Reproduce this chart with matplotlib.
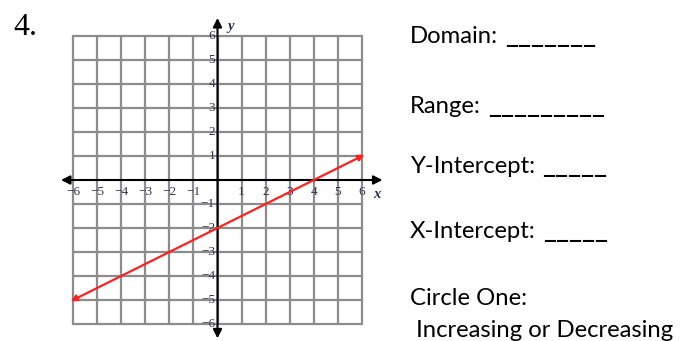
import matplotlib

matplotlib.use("Agg")
import matplotlib.pyplot as plt  # noqa: E402

# worksheet problem 4: graph of a line on a -6..6 grid
grid_values = list(range(-6, 7))
tick_values = [-6, -5, -4, -3, -2, -1, 1, 2, 3, 4, 5, 6]
line_x = [-6.1, 6.1]
line_y = [-5.05, 1.05]
x_axis_span = [-6.5, 6.85]
y_axis_span = [6.75, -6.6]

prompt_labels = ["Domain:", "Range:", "Y-Intercept:", "X-Intercept:", "Circle One:",
                 " Increasing or Decreasing"]
prompt_blanks = ["_______", "_________", "_____", "_____", "", ""]
prompt_baselines = [43, 113, 173, 238, 305, 337]  # pixels from top

W, H = 698, 341
fig = plt.figure(figsize=(W / 100, H / 100), dpi=100)
fig.patch.set_facecolor("white")
ax = fig.add_axes([0, 0, 1, 1])
ax.axis("off")

# pixel mapping: x=-6 -> 73px, x=6 -> 362px ; y=6 -> 36px, y=-6 -> 324px
px_x = (362 - 73) / 12
px_y = (324 - 36) / 12
x0, y0 = 217.5, 180
ax.set_xlim(-x0 / px_x, (W - x0) / px_x)
ax.set_ylim(-(H - y0) / px_y, y0 / px_y)

grid_color = "#8c8c8c"
for v in grid_values:
    ax.plot([v, v], [-6, 6], color=grid_color, lw=1.6, solid_capstyle="round", zorder=1)
    if v != 0:
        ax.plot([-6, 6], [v, v], color=grid_color, lw=1.6, solid_capstyle="round", zorder=1)

arrow_kw = dict(arrowstyle="<|-|>", color="black", lw=1.5, mutation_scale=13,
                shrinkA=0, shrinkB=0)
ax.annotate("", xy=(x_axis_span[1], 0), xytext=(x_axis_span[0], 0), arrowprops=arrow_kw, zorder=3)
ax.annotate("", xy=(0, y_axis_span[0]), xytext=(0, y_axis_span[1]), arrowprops=arrow_kw, zorder=3)

label_color = "#34344a"
for v in tick_values:
    s = f"\u2212{abs(v)}" if v < 0 else str(v)
    ax.text(v, -0.5, s, ha="center", va="center", fontsize=9.5,
            family="Liberation Serif", color=label_color, zorder=4)
    ax.text(-0.1, v, s, ha="right", va="center", fontsize=9.5,
            family="Liberation Serif", color=label_color, zorder=4)
ax.text(6.45, -0.6, "x", ha="left", va="center", fontsize=10.5, family="Liberation Serif",
        style="italic", weight="bold", color="#2a2a55")
ax.text(0.4, 6.4, "y", ha="left", va="center", fontsize=10.5, family="Liberation Serif",
        style="italic", weight="bold", color="#2a2a55")

ax.annotate("", xy=(line_x[1], line_y[1]), xytext=(line_x[0], line_y[0]),
            arrowprops=dict(arrowstyle="<|-|>", color="#ff2020", lw=1.6, mutation_scale=9,
                            shrinkA=0, shrinkB=0), zorder=5)

fig.text(13 / W, 1 - 35 / H, "4.", fontsize=23, family="Liberation Serif",
         va="baseline", ha="left")

renderer = fig.canvas.get_renderer()
for label, blank, base in zip(prompt_labels, prompt_blanks, prompt_baselines):
    t = fig.text(410 / W, 1 - base / H, label, fontsize=17.2, family="Lato",
                 va="baseline", ha="left")
    if blank:
        right = t.get_window_extent(renderer).x1
        fig.text((right + 7) / W, 1 - base / H, blank, fontsize=20.5, family="Lato",
                 va="baseline", ha="left")

fig.savefig("out.png", dpi=100)
plt.close(fig)
